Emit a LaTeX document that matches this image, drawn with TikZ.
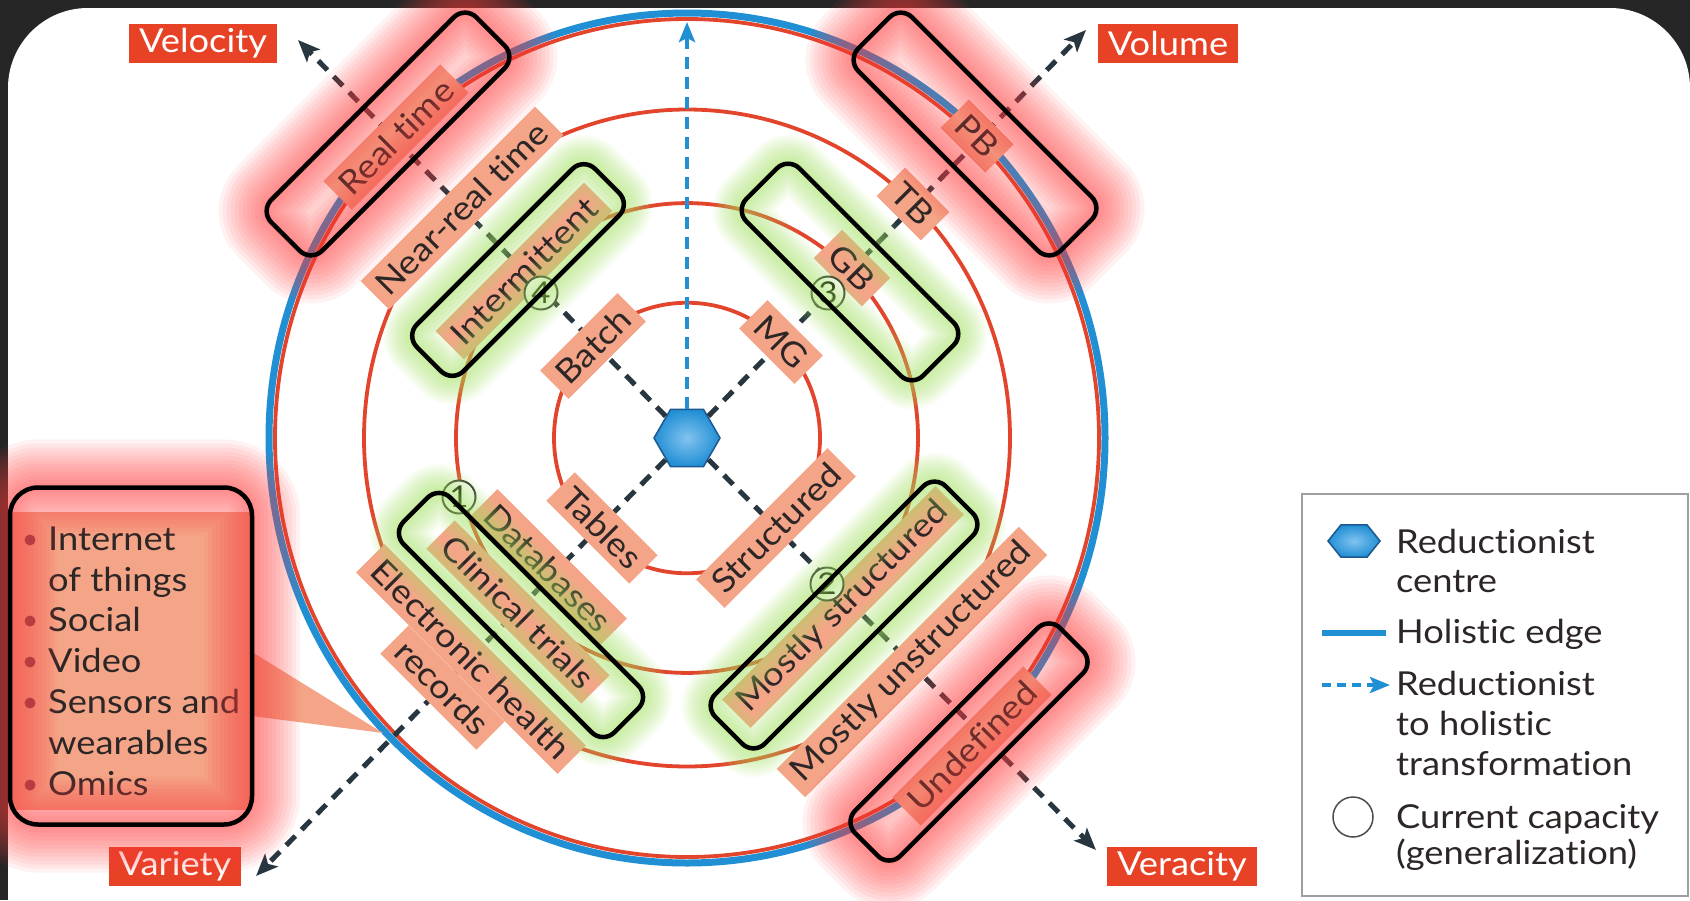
\documentclass[tikz,border=0pt]{standalone}
\usepackage{fontspec}
\setmainfont{Lato}[FakeStretch=1.1, Ligatures={NoCommon,NoRare}]
\usetikzlibrary{arrows.meta,positioning,shapes.geometric,calc}

\definecolor{fundo}{RGB}{38,38,38}
\definecolor{anel}{RGB}{226,68,44}
\definecolor{azul}{RGB}{33,143,212}
\definecolor{azulclaro}{RGB}{130,195,240}
\definecolor{azulescuro}{RGB}{30,88,145}
\definecolor{salmao}{RGB}{244,165,136}
\definecolor{vermelhoeixo}{RGB}{232,66,38}
\definecolor{seta}{RGB}{40,54,64}
\definecolor{texto}{RGB}{45,38,38}
\definecolor{marcador}{RGB}{140,62,72}
\definecolor{brilhoR}{RGB}{255,60,60}
\definecolor{brilhoV}{RGB}{165,228,95}

\newcommand{\fonte}{\fontsize{33}{40}\selectfont}

% destaque: centro, angulo, comprimento, largura, cor, raio, fator do brilho
\newcommand{\destaque}[7]{%
  \foreach \w in {96,88,...,8}
    \draw[#5, line width=\w*#7*1pt, opacity=0.065, rounded corners=#6pt, rotate around={#2:(#1)}]
      ($(#1)+(-#3/2,-#4/2)$) rectangle ($(#1)+(#3/2,#4/2)$);
  \draw[black, line width=4.5pt, rounded corners=#6pt, rotate around={#2:(#1)}]
      ($(#1)+(-#3/2,-#4/2)$) rectangle ($(#1)+(#3/2,#4/2)$);
}

\tikzset{
  rotulo/.style={fill=salmao, text=texto, font=\fonte, inner xsep=9pt, inner ysep=0pt, minimum height=40pt},
  eixorot/.style={fill=vermelhoeixo, text=white, font=\fonte, inner xsep=10pt, inner ysep=0pt, minimum height=39pt},
  tracejado/.style={seta, line width=5pt, dash pattern=on 13pt off 9pt, -{Stealth[length=22pt,width=18pt,inset=5pt]}},
  tracoazul/.style={azul, line width=4pt, dash pattern=on 12pt off 8pt, -{Stealth[length=20pt,width=16pt,inset=4pt]}},
  hexa/.style={regular polygon, regular polygon sides=6, minimum size=66pt, inner sep=0pt, draw=azulescuro, line width=1.5pt, inner color=azulclaro, outer color=azul},
  numcirc/.style={circle, draw=gray!40!black, fill=white, line width=2pt, minimum size=33pt, inner sep=0pt, font=\fontsize{30}{30}\selectfont, text=black},
  leg/.style={font=\fonte, text=texto, inner sep=0pt},
}

\begin{document}
\begin{tikzpicture}[x=1pt, y=-1pt]
  \useasboundingbox (0,0) rectangle (1690,900);
  % Fundo escuro e painel branco
  \fill[fundo] (0,0) rectangle (1690,900);
  \fill[white, rounded corners=80pt] (8,8) rectangle (1690,1000);

  % Aneis concentricos
  \coordinate (ctr) at (687,438);
  \draw[azul, line width=7pt] (ctr) ellipse[x radius=418, y radius=425];
  \foreach \r in {133,231,323,412}
    \draw[anel, line width=3.8pt] (ctr) ellipse[x radius=\r, y radius=1.017*\r];

  % Caixa de fontes de dados (esquerda)
  \fill[salmao] (10,512) rectangle (252,810);
  \fill[salmao] (252,652) -- (383,733) -- (252,716) -- cycle;
  \foreach \lin/\y/\b [count=\i] in {Internet/550/1, of things/591/0, Social/631/1, Video/672/1,
      Sensors and/713/1, wearables/754/0, Omics/795/1}{
    \node[leg, anchor=base west] (item\i) at (48,\y) {\lin};
    \ifnum\b=1 \fill[marcador] (30,\y-10) circle[radius=5.5]; \fi
  }

  % Centro reducionista e eixos
  \node[hexa] (hex) at (ctr) {};
  \coordinate (tipVel) at (298,40);
  \coordinate (tipVol) at (1086,30);
  \coordinate (tipVar) at (256,876);
  \coordinate (tipVer) at (1096,850);
  \coordinate (tipTop) at (687,22);
  \draw[tracejado] (hex) -- (tipVel);
  \draw[tracejado] (hex) -- (tipVol);
  \draw[tracejado] (hex) -- (tipVar);
  \draw[tracejado] (hex) -- (tipVer);
  \draw[tracoazul] (hex) -- (tipTop);

  % Velocidade
  \node[rotulo, rotate=45] (batch) at (593,346) {Batch};
  \node[rotulo, rotate=45] (interm) at (524,271) {Intermittent};
  \node[rotulo, rotate=45] (nreal) at (462,208) {Near-real time};
  \node[rotulo, rotate=45] (real) at (396,137) {Real time};
  % Volume
  \node[rotulo, rotate=-45] (mg) at (781,342) {MG};
  \node[rotulo, rotate=-45] (gb) at (852,268) {GB};
  \node[rotulo, rotate=-45] (tb) at (913,204) {TB};
  \node[rotulo, rotate=-45] (pb) at (977,136) {PB};
  % Veracidade
  \node[rotulo, rotate=45] (estr) at (776,528) {Structured};
  \node[rotulo, rotate=45] (mestr) at (843,607) {Mostly structured};
  \node[rotulo, rotate=45] (mnestr) at (912,662) {Mostly unstructured};
  \node[rotulo, rotate=45] (indef) at (972,746) {Undefined};
  % Variedade
  \node[rotulo, rotate=-45] (tabelas) at (602,528) {Tables};
  \node[rotulo, rotate=-45] (bases) at (548,568) {Databases};
  \node[rotulo, rotate=-45] (ensaios) at (518,612) {Clinical trials};
  \node[rotulo, rotate=-45] (prontA) at (471,659) {Electronic health};
  \node[rotulo, rotate=-45, anchor=north] (prontB) at (prontA.south) {records};

  % Capacidade atual
  \node[numcirc] (n1) at (459,497) {1};
  \node[numcirc] (n2) at (827,584) {2};
  \node[numcirc] (n3) at (828,293) {3};
  \node[numcirc] (n4) at (541,293) {4};

  % Rotulos dos eixos
  \node[eixorot] (vel) at (203,43) {Velocity};
  \node[eixorot] (vol) at (1168,43) {Volume};
  \node[eixorot] (var) at (175,866) {Variety};
  \node[eixorot] (ver) at (1182,866) {Veracity};

  % Legenda
  \draw[gray!75, line width=2pt] (1302,494) rectangle (1688,896);
  \node[hexa, minimum size=52pt, yscale=0.72] (lhex) at (1354,541) {};
  \coordinate (llinA) at (1322,633);
  \coordinate (llinB) at (1386,633);
  \draw[azul, line width=6pt] (llinA) -- (llinB);
  \coordinate (lsetA) at (1322,685);
  \coordinate (lsetB) at (1390,685);
  \draw[tracoazul, line width=4pt, dash pattern=on 9pt off 6pt] (lsetA) -- (lsetB);
  \node[circle, draw=gray!60!black, line width=1.5pt, minimum size=40pt] (lcirc) at (1353,817) {};
  \foreach \lin/\y [count=\i] in {Reductionist/553, centre/592, Holistic edge/643, Reductionist/695,
      to holistic/735, transformation/775, Current capacity/828, {(generalization)}/864}
    \node[leg, anchor=base west] (leg\i) at (1396,\y) {\lin};

  % Destaques
  \destaque{388,134}{45}{290}{72}{brilhoR}{16}{1}
  \destaque{975,134}{-45}{286}{76}{brilhoR}{16}{1}
  \destaque{969,742}{45}{290}{64}{brilhoR}{16}{1}
  \destaque{131,656}{0}{242}{337}{brilhoR}{28}{1}
  \destaque{518,270}{45}{252}{66}{brilhoV}{16}{0.6}
  \destaque{850,272}{-45}{250}{75}{brilhoV}{16}{0.6}
  \destaque{521,615}{-45}{298}{66}{brilhoV}{16}{0.6}
  \destaque{844,615}{45}{326}{70}{brilhoV}{16}{0.6}
\end{tikzpicture}
\end{document}
